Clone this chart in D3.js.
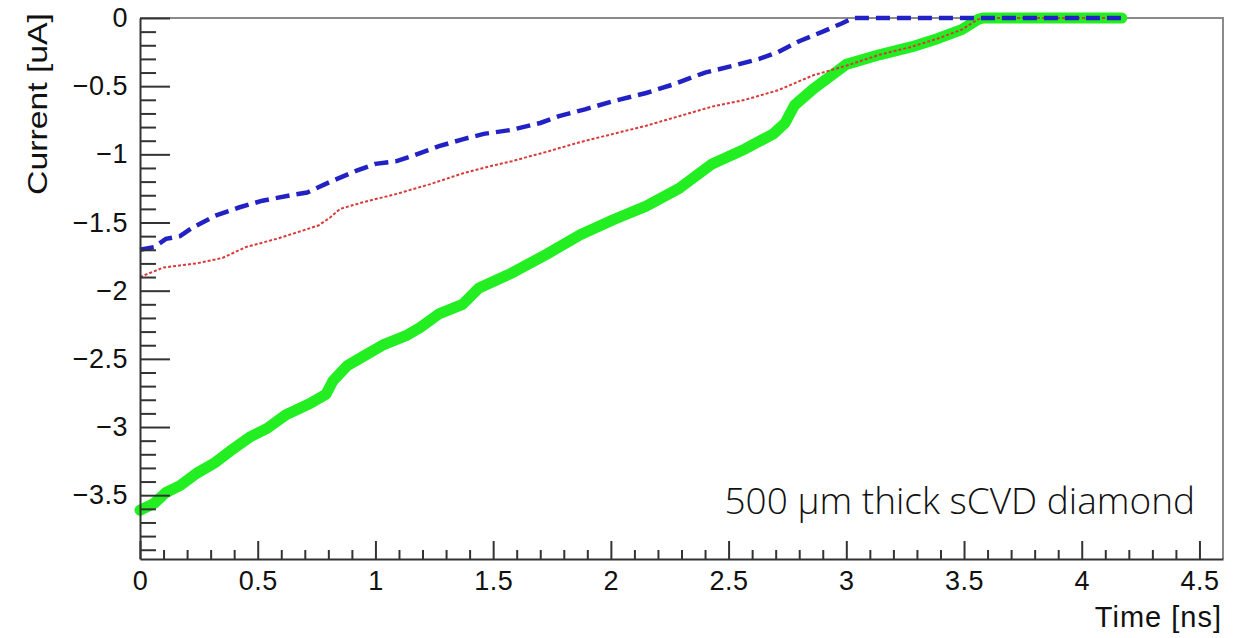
<!DOCTYPE html>
<html>
<head>
<meta charset="utf-8">
<script src="https://cdn.jsdelivr.net/npm/d3@7"></script>
<style>
  html, body { margin: 0; padding: 0; background: #fff; }
  svg { display: block; }
</style>
</head>
<body>
<svg id="chart" width="1238" height="638"></svg>
<script>
// --- data (time in ns, current in uA) ---
const blueTime = [0.00, 0.06, 0.11, 0.17, 0.22, 0.32, 0.42, 0.52, 0.64, 0.71, 0.81, 0.92, 1.00, 1.09, 1.16, 1.27, 1.37, 1.46, 1.58, 1.70, 1.78, 1.89, 2.01, 2.15, 2.26, 2.40, 2.52, 2.63, 2.71, 2.80, 2.90, 2.98, 3.03, 4.17];
const blueCurrent = [-1.70, -1.68, -1.62, -1.60, -1.54, -1.45, -1.39, -1.34, -1.30, -1.28, -1.20, -1.12, -1.07, -1.05, -1.01, -0.94, -0.89, -0.85, -0.82, -0.77, -0.72, -0.67, -0.61, -0.55, -0.49, -0.40, -0.35, -0.30, -0.25, -0.17, -0.10, -0.04, 0, 0];

const redTime = [0.00, 0.10, 0.24, 0.35, 0.45, 0.58, 0.69, 0.76, 0.81, 0.85, 0.95, 1.09, 1.23, 1.37, 1.48, 1.58, 1.73, 1.87, 2.01, 2.15, 2.29, 2.43, 2.57, 2.71, 2.86, 2.96, 3.00, 3.14, 3.28, 3.39, 3.49, 3.56, 3.58, 4.17];
const redCurrent = [-1.90, -1.83, -1.80, -1.76, -1.68, -1.62, -1.56, -1.52, -1.46, -1.40, -1.35, -1.29, -1.22, -1.14, -1.09, -1.05, -0.98, -0.91, -0.85, -0.79, -0.72, -0.65, -0.60, -0.53, -0.42, -0.37, -0.35, -0.27, -0.21, -0.15, -0.085, -0.01, 0, 0];

const greenTime = [0.00, 0.06, 0.11, 0.17, 0.24, 0.32, 0.38, 0.47, 0.54, 0.62, 0.72, 0.79, 0.82, 0.88, 0.95, 1.03, 1.13, 1.19, 1.27, 1.37, 1.44, 1.58, 1.73, 1.87, 2.01, 2.15, 2.29, 2.43, 2.57, 2.69, 2.74, 2.78, 2.86, 2.93, 3.00, 3.14, 3.28, 3.39, 3.49, 3.56, 3.58, 4.17];
const greenCurrent = [-3.61, -3.56, -3.48, -3.43, -3.34, -3.26, -3.18, -3.07, -3.01, -2.91, -2.83, -2.76, -2.66, -2.55, -2.48, -2.40, -2.33, -2.27, -2.17, -2.10, -1.98, -1.87, -1.73, -1.59, -1.48, -1.38, -1.25, -1.07, -0.96, -0.85, -0.77, -0.64, -0.52, -0.43, -0.34, -0.27, -0.21, -0.15, -0.085, -0.01, 0, 0];

const xMajorTicks = [0, 0.5, 1, 1.5, 2, 2.5, 3, 3.5, 4, 4.5];
const yMajorTicks = [0, -0.5, -1, -1.5, -2, -2.5, -3, -3.5];

const W = 1238, H = 638;
const m = { top: 18, right: 15, bottom: 79, left: 140 };

const svg = d3.select("#chart");
svg.append("rect").attr("width", W).attr("height", H).attr("fill", "#fff");

const x = d3.scaleLinear().domain([0, 4.6]).range([m.left, W - m.right]);
const y = d3.scaleLinear().domain([-3.968, 0]).range([H - m.bottom, m.top]);

const xMinor = d3.range(0, 46).map(i => i / 10).filter(v => !xMajorTicks.some(t => Math.abs(t - v) < 1e-6));
const yMinor = d3.range(0, 40).map(i => -i / 10).filter(v => !yMajorTicks.some(t => Math.abs(t - v) < 1e-6));

const fmt = d3.format("~g");
const tickFont = "'Liberation Sans', Arial, Helvetica, sans-serif";

// Frame (top / right)
svg.append("path")
  .attr("d", `M${x(0)},${y(0)}H${x(4.6)}V${y(-3.968)}`)
  .attr("fill", "none").attr("stroke", "#8a8a8a").attr("stroke-width", 2);

// Curves: green underneath, red dotted, blue dashed on top
const line = d3.line().x(d => x(d[0])).y(d => y(d[1]));

svg.append("path")
  .datum(d3.zip(greenTime, greenCurrent))
  .attr("d", line)
  .attr("fill", "none").attr("stroke", "#22ee22").attr("stroke-width", 11)
  .attr("stroke-linejoin", "round").attr("stroke-linecap", "round");

svg.append("path")
  .datum(d3.zip(redTime, redCurrent))
  .attr("d", line)
  .attr("fill", "none").attr("stroke", "#d83a3a").attr("stroke-width", 2)
  .attr("stroke-dasharray", "3,2");

svg.append("path")
  .datum(d3.zip(blueTime, blueCurrent))
  .attr("d", line)
  .attr("fill", "none").attr("stroke", "#2222c4").attr("stroke-width", 4.5)
  .attr("stroke-dasharray", "14,7");

// Axes
const styleAxis = ax => {
  ax.select(".domain").attr("stroke", "#333").attr("stroke-width", 2);
  ax.selectAll(".tick line").attr("stroke", "#333").attr("stroke-width", 2);
  ax.selectAll(".tick text")
    .style("fill", "#111").style("font-size", "27px").style("font-family", tickFont)
    .style("letter-spacing", "0.5px");
};

svg.append("g")
  .attr("transform", `translate(0,${y(-3.968)})`)
  .call(d3.axisBottom(x).tickValues(xMinor).tickSize(-9).tickFormat("").tickSizeOuter(0))
  .call(ax => { ax.select(".domain").remove(); ax.selectAll(".tick line").attr("stroke", "#333").attr("stroke-width", 2); });

svg.append("g")
  .attr("transform", `translate(0,${y(-3.968)})`)
  .call(d3.axisBottom(x).tickValues(xMajorTicks).tickSize(-18).tickPadding(12).tickFormat(fmt).tickSizeOuter(0))
  .call(styleAxis);

svg.append("g")
  .attr("transform", `translate(${x(0)},0)`)
  .call(d3.axisLeft(y).tickValues(yMinor).tickSize(-16).tickFormat("").tickSizeOuter(0))
  .call(ax => { ax.select(".domain").remove(); ax.selectAll(".tick line").attr("stroke", "#333").attr("stroke-width", 2); });

svg.append("g")
  .attr("transform", `translate(${x(0)},0)`)
  .call(d3.axisLeft(y).tickValues(yMajorTicks).tickSize(-30).tickPadding(12).tickFormat(fmt).tickSizeOuter(0))
  .call(styleAxis);

// Axis titles
svg.append("text")
  .attr("transform", `translate(47,13) rotate(-90)`)
  .attr("text-anchor", "end")
  .attr("textLength", 182).attr("lengthAdjust", "spacingAndGlyphs")
  .style("fill", "#111").style("font-size", "28px").style("font-family", tickFont)
  .text("Current [uA]");

svg.append("text")
  .attr("x", 1222).attr("y", 627)
  .attr("text-anchor", "end")
  .style("fill", "#111").style("font-size", "29px").style("font-family", tickFont)
  .style("letter-spacing", "1px")
  .text("Time [ns]");

// Annotation
svg.append("text")
  .attr("x", 1195).attr("y", 514)
  .attr("text-anchor", "end")
  .style("fill", "#111").style("font-size", "37px").style("font-weight", "300")
  .style("font-family", "'Open Sans', sans-serif")
  .text("500 \u03bcm thick sCVD diamond");
</script>
</body>
</html>
